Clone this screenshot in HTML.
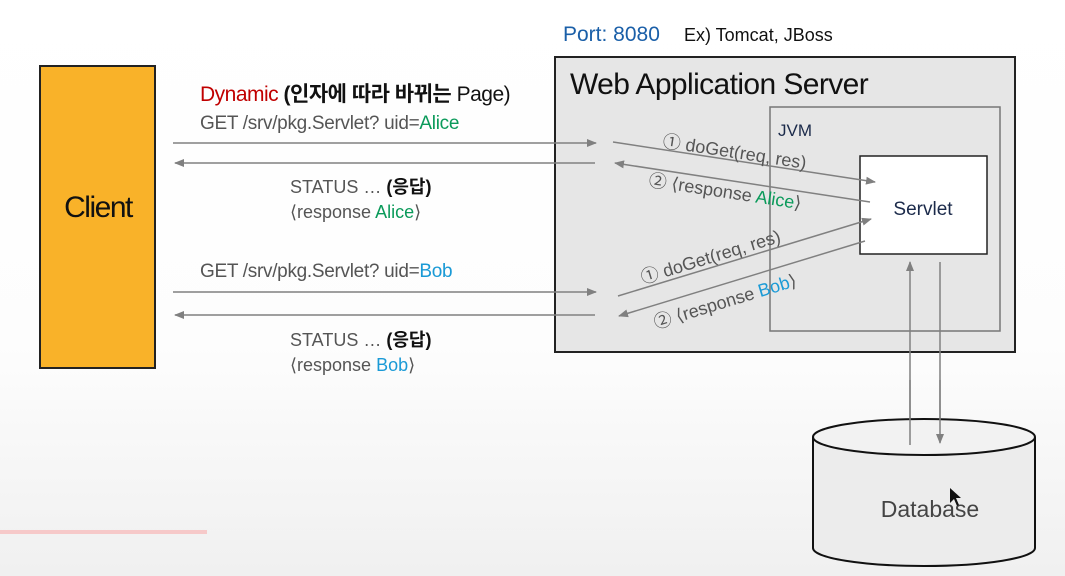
<!DOCTYPE html>
<html><head><meta charset="utf-8"><style>
html,body{margin:0;padding:0;width:1065px;height:576px;overflow:hidden;background:linear-gradient(#fff 0%,#fdfdfd 60%,#f0f0f0 100%);}
svg{display:block}
text{font-family:"Liberation Sans","Noto Sans CJK KR",sans-serif;}
</style></head><body>
<svg width="1065" height="576" viewBox="0 0 1065 576">
<defs>
<marker id="a" markerWidth="10" markerHeight="8" refX="9" refY="4" orient="auto" markerUnits="userSpaceOnUse">
<path d="M0,0 L10,4 L0,8 z" fill="#808080"/></marker>
</defs>
<rect x="0" y="530" width="207" height="4" fill="#f6c9c9"/>
<rect x="40" y="66" width="115" height="302" fill="#F9B229" stroke="#222" stroke-width="2"/>
<text x="98" y="217" text-anchor="middle" font-size="30" fill="#111" letter-spacing="-1.5">Client</text>
<text x="563" y="41" font-size="21" fill="#1a5fa8">Port: 8080</text>
<text x="684" y="41" font-size="18" fill="#111">Ex) Tomcat, JBoss</text>
<rect x="555" y="57" width="460" height="295" fill="#e6e6e6" stroke="#222" stroke-width="2"/>
<text x="570" y="94" font-size="30" fill="#111" letter-spacing="-0.6">Web Application Server</text>
<rect x="770" y="107" width="230" height="224" fill="none" stroke="#777" stroke-width="1.5"/>
<text x="778" y="136" font-size="17" fill="#1b2a4a">JVM</text>
<rect x="860" y="156" width="127" height="98" fill="#fff" stroke="#222" stroke-width="1.5"/>
<text x="923" y="215" text-anchor="middle" font-size="19" fill="#1b2a4a">Servlet</text>
<text x="200" y="101" font-size="21" fill="#111" letter-spacing="-0.5"><tspan fill="#c00000">Dynamic</tspan> <tspan font-weight="bold">(인자에 따라 바뀌는</tspan> Page)</text>
<text x="200" y="129" font-size="19" fill="#555" letter-spacing="-0.3">GET /srv/pkg.Servlet? uid=<tspan fill="#0a9a5a">Alice</tspan></text>
<text x="290" y="193" font-size="18" fill="#555">STATUS … <tspan fill="#111" font-weight="bold">(응답)</tspan></text>
<text x="290" y="218" font-size="18" fill="#555">⟨response <tspan fill="#0a9a5a">Alice</tspan>⟩</text>
<text x="200" y="277" font-size="19" fill="#555" letter-spacing="-0.3">GET /srv/pkg.Servlet? uid=<tspan fill="#1a9ad6">Bob</tspan></text>
<text x="290" y="346" font-size="18" fill="#555">STATUS … <tspan fill="#111" font-weight="bold">(응답)</tspan></text>
<text x="290" y="371" font-size="18" fill="#555">⟨response <tspan fill="#1a9ad6">Bob</tspan>⟩</text>
<g stroke="#808080" stroke-width="1.5" fill="none">
<line x1="173" y1="143" x2="596" y2="143" marker-end="url(#a)"/>
<line x1="595" y1="163" x2="175" y2="163" marker-end="url(#a)"/>
<line x1="173" y1="292" x2="596" y2="292" marker-end="url(#a)"/>
<line x1="595" y1="315" x2="175" y2="315" marker-end="url(#a)"/>
<line x1="613" y1="142" x2="875" y2="182" marker-end="url(#a)"/>
<line x1="870" y1="202" x2="615" y2="163" marker-end="url(#a)"/>
<line x1="618" y1="296" x2="871" y2="219" marker-end="url(#a)"/>
<line x1="865" y1="241" x2="619" y2="316" marker-end="url(#a)"/>
<line x1="910" y1="445" x2="910" y2="262" marker-end="url(#a)"/>
<line x1="940" y1="262" x2="940" y2="445" marker-end="url(#a)"/>
</g>
<text font-size="18" fill="#555" transform="translate(662,147) rotate(8.7)">① doGet(req, res)</text>
<text font-size="18" fill="#555" transform="translate(648,186) rotate(8.7)">② ⟨response <tspan fill="#0a9a5a">Alice</tspan>⟩</text>
<text font-size="18" fill="#555" transform="translate(643,284) rotate(-17)">① doGet(req, res)</text>
<text font-size="18" fill="#555" transform="translate(656,329) rotate(-17)">② ⟨response <tspan fill="#1a9ad6">Bob</tspan>⟩</text>
<path d="M813,437 L813,548 A111,18 0 0 0 1035,548 L1035,437" fill="#ececec" stroke="#111" stroke-width="2"/>
<ellipse cx="924" cy="437" rx="111" ry="18" fill="#f2f2f2" stroke="#111" stroke-width="2"/>
<line x1="910" y1="380" x2="910" y2="445" stroke="#808080" stroke-width="1.5"/>
<line x1="940" y1="380" x2="940" y2="443" stroke="#808080" stroke-width="1.5" marker-end="url(#a)"/>
<text x="930" y="517" text-anchor="middle" font-size="23" fill="#444">Database</text>
<path d="M950,488 L950,503 L954,499 L957,506 L959,505 L956,498 L961,498 z" fill="#111"/>
</svg>
</body></html>
